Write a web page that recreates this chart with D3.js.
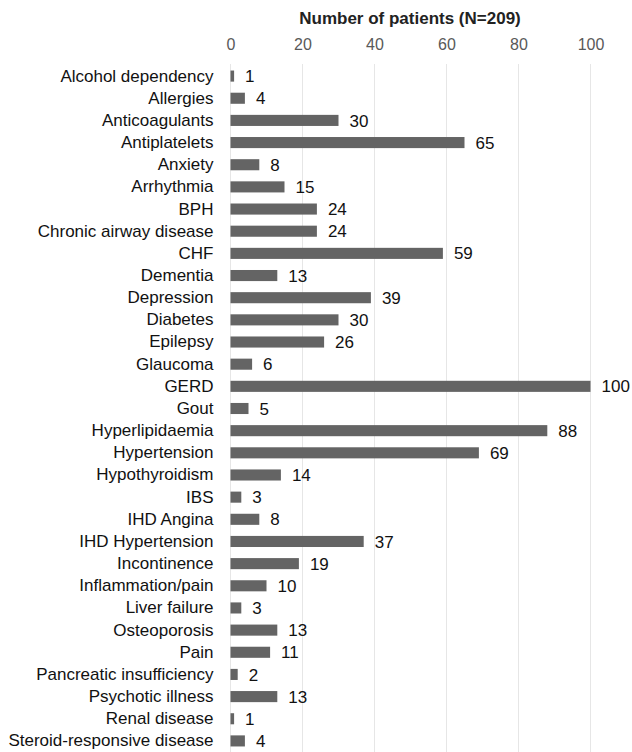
<!DOCTYPE html>
<html lang="en">
<head>
  <meta charset="UTF-8">
  <title>Number of patients</title>
  <script src="https://d3js.org/d3.v7.min.js"></script>
  <style>
    body { margin: 0; background: #fff; }
    text { font-family: "Liberation Sans", Arial, sans-serif; }
  </style>
</head>
<body>
  <div id="canvas"></div>
  <script>
    const categories = ['Alcohol dependency', 'Allergies', 'Anticoagulants', 'Antiplatelets', 'Anxiety',
      'Arrhythmia', 'BPH', 'Chronic airway disease', 'CHF', 'Dementia', 'Depression', 'Diabetes',
      'Epilepsy', 'Glaucoma', 'GERD', 'Gout', 'Hyperlipidaemia', 'Hypertension', 'Hypothyroidism',
      'IBS', 'IHD Angina', 'IHD Hypertension', 'Incontinence', 'Inflammation/pain', 'Liver failure',
      'Osteoporosis', 'Pain', 'Pancreatic insufficiency', 'Psychotic illness', 'Renal disease',
      'Steroid-responsive disease'];
    const values = [1, 4, 30, 65, 8, 15, 24, 24, 59, 13, 39, 30, 26, 6, 100, 5, 88, 69, 14, 3, 8, 37,
      19, 10, 3, 13, 11, 2, 13, 1, 4];
    const ticks = [0, 20, 40, 60, 80, 100];
    const title = 'Number of patients (N=209)';

    const width = 632;
    const height = 752;

    const x = d3.scaleLinear().domain([0, 100]).range([230.5, 590.5]);
    const y = d3.scaleBand().domain(categories).range([65, 752])
      .paddingInner(0.5).paddingOuter(0.25);

    const svg = d3.select('#canvas')
      .append('svg')
      .attr('width', width)
      .attr('height', height);

    // gridlines
    svg.append('g')
      .selectAll('line')
      .data(ticks)
      .enter()
      .append('line')
      .attr('x1', d => x(d))
      .attr('x2', d => x(d))
      .attr('y1', 64)
      .attr('y2', height)
      .attr('stroke', '#e6e6e6')
      .attr('stroke-width', 1);

    // top axis labels
    const xAxis = d3.axisTop(x).tickValues(ticks).tickSize(0).tickPadding(0);
    const gx = svg.append('g')
      .attr('transform', 'translate(0,50)')
      .call(xAxis);
    gx.select('.domain').remove();
    gx.selectAll('text')
      .attr('fill', '#595959')
      .style('font-size', '16px');

    svg.append('text')
      .attr('x', 410)
      .attr('y', 24)
      .attr('text-anchor', 'middle')
      .style('font-size', '17px')
      .style('font-weight', 'bold')
      .attr('fill', '#222')
      .text(title);

    // category labels
    const yAxis = d3.axisLeft(y).tickSize(0).tickPadding(17);
    const gy = svg.append('g')
      .attr('transform', 'translate(' + x(0) + ',0)')
      .call(yAxis);
    gy.select('.domain').remove();
    gy.selectAll('text')
      .attr('fill', '#111')
      .style('font-size', '17px');

    // bars
    svg.append('g')
      .selectAll('rect')
      .data(values)
      .enter()
      .append('rect')
      .attr('x', x(0))
      .attr('y', (d, i) => y(categories[i]))
      .attr('width', d => x(d) - x(0))
      .attr('height', y.bandwidth())
      .attr('fill', '#646464');

    // value labels
    svg.append('g')
      .selectAll('text')
      .data(values)
      .enter()
      .append('text')
      .attr('x', d => x(d) + 11)
      .attr('y', (d, i) => y(categories[i]) + y.bandwidth() / 2)
      .attr('dy', '0.36em')
      .attr('fill', '#111')
      .style('font-size', '17px')
      .text(d => d);
  </script>
</body>
</html>
